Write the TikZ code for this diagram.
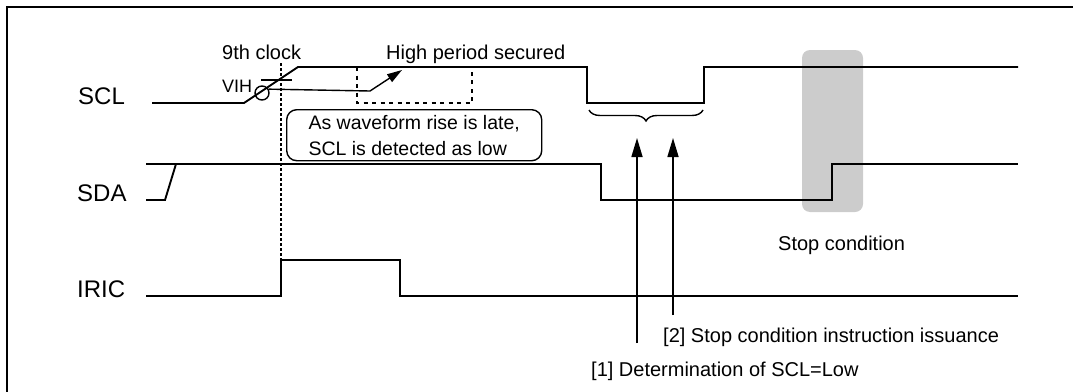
\documentclass[tikz,border=0pt]{standalone}
\usepackage{fontspec}
\setmainfont{Liberation Sans}
\usetikzlibrary{arrows.meta,decorations.pathreplacing}
\begin{document}
\begin{tikzpicture}[x=1pt,y=-1pt,
  wave/.style={line width=1.9pt, line join=miter},
  thinline/.style={line width=1.4pt},
  lbl/.style={inner sep=0pt, anchor=base west, font=\fontsize{20}{26}\selectfont},
  sig/.style={inner sep=0pt, anchor=base west, font=\fontsize{24}{28}\selectfont},
  dotsA/.style={line width=1.4pt, dash pattern=on 2.5pt off 2.5pt},
  dotsB/.style={line width=1.4pt, dash pattern=on 4pt off 4.5pt},
  pointer/.style={line width=1.6pt, -{Triangle[length=19pt,width=11pt]}}]
\clip (0,0) rectangle (1073,391);
% frame
\draw[line width=2pt] (7,7) rectangle (1095,405);
% stop-condition highlight
\fill[black!20, rounded corners=8pt] (802,50) rectangle (863,212);

% signal names
\node[sig] (sclname) at (78,104) {SCL};
\node[sig] (sdaname) at (77,201) {SDA};
\node[sig] (iricname) at (77,297) {IRIC};

% SCL waveform
\draw[wave] (152,103) -- (244,103) -- (298,67) -- (587,67) -- (587,103)
  -- (704,103) -- (704,67) -- (1018,67);
% SDA waveform
\draw[wave] (146,200) -- (165,200) -- (176,164);
\draw[wave] (146,164) -- (601,164) -- (601,200) -- (832,200) -- (832,164) -- (1018,164);
% IRIC waveform
\draw[wave] (146,296) -- (281,296) -- (281,260) -- (400,260) -- (400,296) -- (1018,296);

% 9th clock dotted line
\draw[dotsA] (281,63) -- (281,296);
% high period window
\draw[dotsB] (357,67) -- (357,103) -- (472,103) -- (472,67);

% VIH level and detection point
\draw[thinline] (261,80) -- (292,80);
\node[circle, draw, thinline, minimum size=14pt, inner sep=0pt] (vih) at (262,93) {};
\coordinate (bend) at (370,91);
\coordinate (late) at (402,70);
\draw[thinline, -{Triangle[length=15pt,width=9pt]}] (vih.30) -- (bend) -- (late);

% texts
\node[lbl] (clk) at (222,59) {9th clock};
\node[lbl, font=\fontsize{18}{20}\selectfont] (vihtxt) at (222,92) {VIH};
\node[lbl] (highp) at (386,59) {High period secured};
\node[draw, thinline, rounded corners=10pt, anchor=north west, inner xsep=13pt, inner ysep=0pt,
  minimum width=255pt, minimum height=51pt, align=left,
  font=\fontsize{19.5}{26}\selectfont] (note) at (286,109)
  {As waveform rise is late,\\SCL is detected as low};
\node[lbl] (stop) at (778,250) {Stop condition};
\node[lbl] (step2) at (663,342) {[2] Stop condition instruction issuance};
\node[lbl] (step1) at (591,376) {[1] Determination of SCL=Low};

% brace under SCL low period
\draw[thinline, decorate, decoration={brace, amplitude=11pt, mirror}] (589,110) -- (703,110);

% arrows
\coordinate (foot1) at (637,343);
\coordinate (head1) at (637,138);
\coordinate (foot2) at (673,315);
\coordinate (head2) at (673,138);
\draw[pointer] (foot1) -- (head1);
\draw[pointer] (foot2) -- (head2);
\end{tikzpicture}
\end{document}
